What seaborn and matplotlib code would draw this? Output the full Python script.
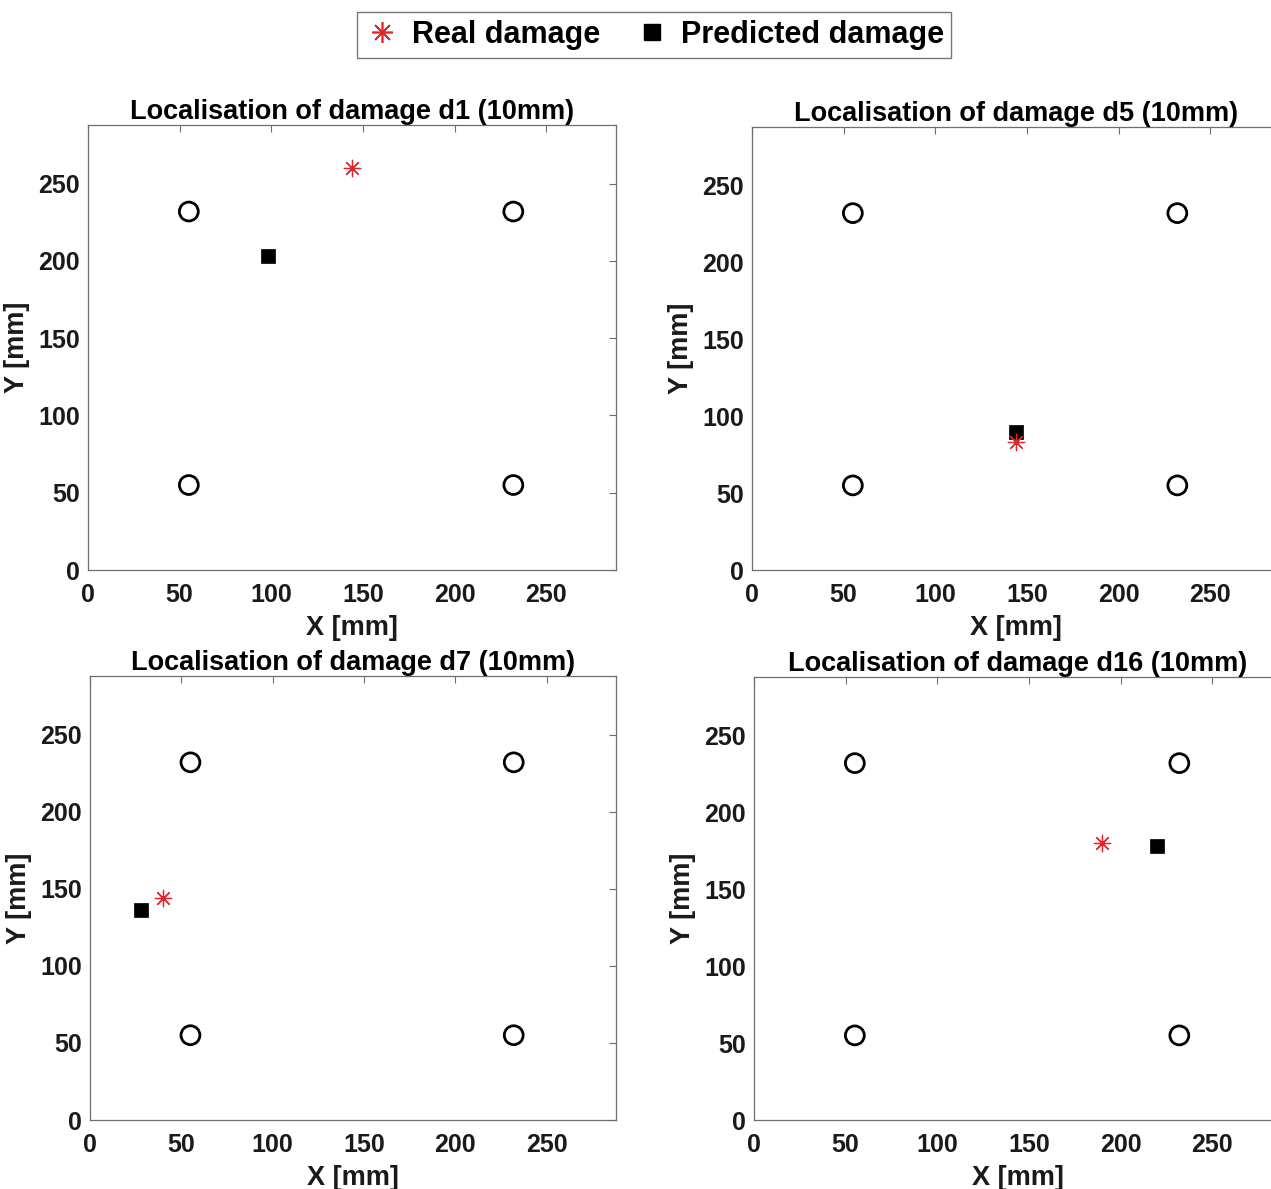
import numpy as np
import pandas as pd
import matplotlib
matplotlib.use("Agg")
import matplotlib.pyplot as plt
import seaborn as sns
from matplotlib.lines import Line2D

# sensor positions (same on every plate)
sensor_x = [55, 232, 55, 232]
sensor_y = [232, 232, 55, 55]

# damage cases: title label, real damage (x, y), predicted damage (x, y)
cases = ["d1", "d5", "d7", "d16"]
real_x = [144, 144, 40, 190]
real_y = [260, 83, 144, 180]
pred_x = [98, 144, 28, 220]
pred_y = [203, 90, 136, 178]

ticks = [0, 50, 100, 150, 200, 250]

sns.set_style("white")
plt.rcParams["font.family"] = ["Liberation Sans", "DejaVu Sans"]
plt.rcParams["font.weight"] = "bold"

W, H = 1271, 1189
fig = plt.figure(figsize=(W / 100, H / 100), dpi=100)

# axes boxes in pixels: left, top, right, bottom
boxes = [(88, 125, 616, 570), (752, 127, 1280, 570),
         (90, 676, 616, 1120), (754, 677, 1282, 1120)]

sensors = pd.DataFrame({"x": sensor_x, "y": sensor_y})
axis_col = "#6e6e6e"
text_col = "#1a1a1a"

for i, case in enumerate(cases):
    l, t, r, b = boxes[i]
    ax = fig.add_axes([l / W, 1 - b / H, (r - l) / W, (b - t) / H])
    sns.scatterplot(data=sensors, x="x", y="y", ax=ax, marker="o", s=185,
                    facecolor="none", edgecolor="black", linewidth=2, zorder=3)
    sns.scatterplot(x=[pred_x[i]], y=[pred_y[i]], ax=ax, marker="s", s=105,
                    color="black", edgecolor="black", linewidth=0.5, zorder=4)
    sns.scatterplot(x=[real_x[i]], y=[real_y[i]], ax=ax, marker=(8, 2, 0), s=140,
                    color="#e0262b", edgecolor="#e0262b", linewidth=0.9, zorder=5)
    ax.set_xlim(0, 288)
    ax.set_ylim(0, 288)
    ax.set_xticks(ticks)
    ax.set_yticks(ticks)
    ax.tick_params(direction="in", top=True, right=True, length=5, width=0.8,
                   color=axis_col, labelsize=18, labelcolor=text_col)
    ax.tick_params(axis="x", pad=9)
    ax.tick_params(axis="y", pad=6)
    for lab in ax.get_xticklabels() + ax.get_yticklabels():
        lab.set_fontweight("bold")
    for sp in ax.spines.values():
        sp.set_color(axis_col)
        sp.set_linewidth(0.9)
    ax.set_xlabel("X [mm]", fontsize=19.5, fontweight="bold", color=text_col, labelpad=6)
    ax.set_ylabel("Y [mm]", fontsize=19.5, fontweight="bold", color=text_col, labelpad=6)
    ax.set_title(f"Localisation of damage {case} (10mm)", fontsize=19.5,
                 fontweight="bold", color="black", pad=4)

handles = [
    Line2D([], [], linestyle="none", marker=(8, 2, 0), markersize=15,
           color="#e0262b", markeredgewidth=1.2, label="Real damage"),
    Line2D([], [], linestyle="none", marker="s", markersize=12,
           color="black", label="Predicted damage"),
]
leg = fig.legend(handles=handles, loc="center", bbox_to_anchor=(654 / W, 1 - 35 / H),
                 ncol=2, frameon=True, fancybox=False,
                 prop={"weight": "bold", "size": 22}, handletextpad=0.35,
                 columnspacing=1.1, borderpad=0.25, handlelength=1.2,
                 labelcolor="black")
leg.get_frame().set_edgecolor("#555555")
leg.get_frame().set_linewidth(1.0)

fig.savefig("out.png", dpi=100)
